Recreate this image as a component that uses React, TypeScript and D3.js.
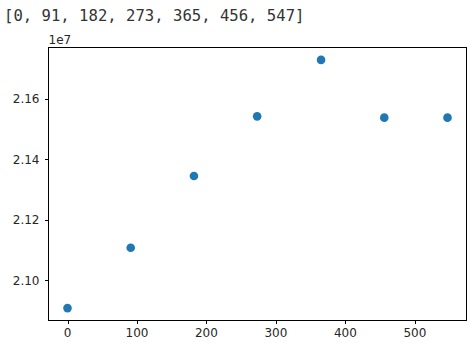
import React from "react";
import * as d3 from "d3";

const xValues = [0, 91, 182, 273, 365, 456, 547];
const yValues = [20908300, 21107900, 21345400, 21542700, 21729500, 21538400, 21538400];
const xTicks = [0, 100, 200, 300, 400, 500];
const yTicks = [21000000, 21200000, 21400000, 21600000];
const headerText = "[" + xValues.join(", ") + "]";
const offsetText = "1e7";

const W = 475;
const H = 346;
const left = 48.5;
const right = 466.5;
const top = 47.5;
const bottom = 320.5;

export default function App() {
  const xMin = d3.min(xValues)!;
  const xMax = d3.max(xValues)!;
  const xPad = (xMax - xMin) * 0.05;
  const yMin = d3.min(yValues)!;
  const yMax = d3.max(yValues)!;
  const yPad = (yMax - yMin) * 0.05;
  const x = d3.scaleLinear().domain([xMin - xPad, xMax + xPad]).range([left, right]);
  const y = d3.scaleLinear().domain([yMin - yPad, yMax + yPad]).range([bottom, top]);
  const font = "'DejaVu Sans', sans-serif";
  const textColor = "#262626";
  return (
    <svg
      width={W}
      height={H}
      style={{ position: "absolute", left: 0, top: 0, background: "#fff" }}
    >
      <rect x={0} y={0} width={W} height={H} fill="#fff" />
      <text
        x={4}
        y={21}
        fontFamily="'DejaVu Sans Mono', monospace"
        fontSize={15.6}
        fill="#333"
      >
        {headerText}
      </text>
      <text x={left} y={44} fontFamily={font} fontSize={12} fill={textColor}>
        {offsetText}
      </text>
      {yTicks.map((t) => (
        <g key={"y" + t}>
          <line x1={left - 3.5} x2={left} y1={Math.round(y(t)) + 0.5} y2={Math.round(y(t)) + 0.5} stroke="#000" strokeWidth={1} />
          <text
            x={left - 9}
            y={y(t)}
            dy="0.36em"
            textAnchor="end"
            fontFamily={font}
            fontSize={12}
            fill={textColor}
          >
            {(t / 1e7).toFixed(2)}
          </text>
        </g>
      ))}
      {xTicks.map((t) => (
        <g key={"x" + t}>
          <line x1={Math.round(x(t)) + 0.5} x2={Math.round(x(t)) + 0.5} y1={bottom} y2={bottom + 3.5} stroke="#000" strokeWidth={1} />
          <text
            x={x(t)}
            y={bottom + 16}
            textAnchor="middle"
            fontFamily={font}
            fontSize={12}
            fill={textColor}
          >
            {t}
          </text>
        </g>
      ))}
      {xValues.map((v, i) => (
        <circle key={"p" + i} cx={x(v)} cy={y(yValues[i])} r={4.3} fill="#1f77b4" />
      ))}
      <rect
        x={left}
        y={top}
        width={right - left}
        height={bottom - top}
        fill="none"
        stroke="#000"
        strokeWidth={1}
      />
    </svg>
  );
}
